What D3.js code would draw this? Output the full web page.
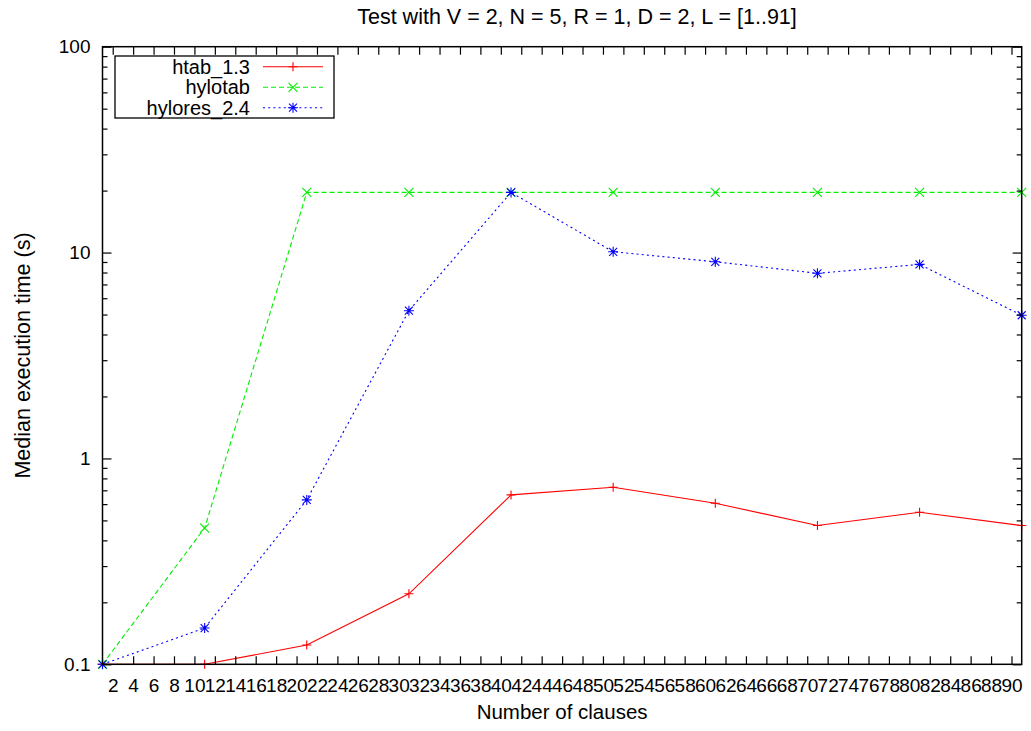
<!DOCTYPE html>
<html>
<head>
<meta charset="utf-8">
<script src="https://cdn.jsdelivr.net/npm/d3@7"></script>
<style>
  html, body { margin: 0; padding: 0; background: #fff; }
  svg { display: block; }
  text { font-family: "Liberation Sans", Arial, Helvetica, sans-serif; fill: #000; }
</style>
</head>
<body>
<svg id="chart" width="1031" height="731"></svg>
<script>
// ---- data ----
const clauses = [1, 11, 21, 31, 41, 51, 61, 71, 81, 91];
const htab13 = [0.1, 0.1, 0.124, 0.22, 0.665, 0.725, 0.606, 0.472, 0.548, 0.472];
const hylotab = [0.1, 0.459, 19.6, 19.6, 19.6, 19.6, 19.6, 19.6, 19.6, 19.6];
const hylores24 = [0.1, 0.15, 0.629, 5.22, 19.6, 10.09, 9.02, 7.93, 8.76, 4.96];
const seriesNames = ["htab_1.3", "hylotab", "hylores_2.4"];
const xTickValues = d3.range(2, 91, 2);
const yMajorTicks = [0.1, 1, 10, 100];
const yTickLabels = ["0.1", "1", "10", "100"];
const titleText = "Test with V = 2, N = 5, R = 1, D = 2, L = [1..91]";
const xLabelText = "Number of clauses";
const yLabelText = "Median execution time (s)";

// ---- layout ----
const L = 102.5, R = 1021.7, T = 46.7, B = 664.3;
const svg = d3.select("#chart");
const x = d3.scaleLinear().domain([1, 91]).range([L, R]);
const y = d3.scaleLog().domain([0.1, 100]).range([B, T]);

const yMinorTicks = [];
[0.1, 1, 10].forEach(d => { for (let k = 2; k <= 9; k++) yMinorTicks.push(+(d * k).toPrecision(3)); });

const FS = 19;

const styles = [
  { color: "#ff0000", dash: null, marker: "plus" },
  { color: "#00ee00", dash: "5,3", marker: "cross" },
  { color: "#0000ff", dash: "2,3.2", marker: "star" }
];
const allSeries = [htab13, hylotab, hylores24];

const mk = {
  plus: "M-4.5,0H4.5M0,-4.5V4.5",
  cross: "M-4.5,-4.5L4.5,4.5M-4.5,4.5L4.5,-4.5",
  star: "M-5,0H5M0,-5V5M-4,-4L4,4M-4,4L4,-4"
};

const line = d3.line().x(d => x(d[0])).y(d => y(d[1]));
const plot = svg.append("g");
allSeries.forEach((vals, i) => {
  const pts = clauses.map((c, j) => [c, vals[j]]);
  plot.append("path")
    .attr("d", line(pts))
    .attr("fill", "none")
    .attr("stroke", styles[i].color)
    .attr("stroke-width", 1.1)
    .attr("stroke-dasharray", styles[i].dash);
  plot.selectAll(null).data(pts).enter().append("path")
    .attr("transform", d => `translate(${x(d[0])},${y(d[1])})`)
    .attr("d", mk[styles[i].marker])
    .attr("fill", "none")
    .attr("stroke", styles[i].color)
    .attr("stroke-width", 1.1);
});

function styleAxis(g) {
  g.select(".domain").remove();
  g.selectAll(".tick line").attr("stroke", "#000").attr("stroke-width", 1.2);
  g.selectAll("text").style("font-size", FS + "px").attr("fill", "#000")
    .style("font-family", '"Liberation Sans", Arial, sans-serif');
}

const xb = svg.append("g").attr("transform", `translate(0,${B})`)
  .call(d3.axisBottom(x).tickValues(xTickValues).tickSizeInner(-8).tickSizeOuter(0).tickPadding(14).tickFormat(d3.format("d")))
  .call(styleAxis);
xb.selectAll(".tick").filter(d => d === 2).select("line").remove();

svg.append("g").attr("transform", `translate(0,${T})`)
  .call(d3.axisTop(x).tickValues(xTickValues).tickSizeInner(-8).tickSizeOuter(0).tickFormat(""))
  .call(styleAxis);

svg.append("g").attr("transform", `translate(${L},0)`)
  .call(d3.axisLeft(y).tickValues(yMajorTicks).tickSizeInner(-9).tickSizeOuter(0).tickPadding(12)
    .tickFormat((d, i) => yTickLabels[i]))
  .call(styleAxis);
svg.append("g").attr("transform", `translate(${L},0)`)
  .call(d3.axisLeft(y).tickValues(yMinorTicks).tickSizeInner(-5).tickSizeOuter(0).tickFormat(""))
  .call(styleAxis);
svg.append("g").attr("transform", `translate(${R},0)`)
  .call(d3.axisRight(y).tickValues(yMajorTicks).tickSizeInner(-9).tickSizeOuter(0).tickFormat(""))
  .call(styleAxis);
svg.append("g").attr("transform", `translate(${R},0)`)
  .call(d3.axisRight(y).tickValues(yMinorTicks).tickSizeInner(-5).tickSizeOuter(0).tickFormat(""))
  .call(styleAxis);

svg.append("rect").attr("x", L).attr("y", T).attr("width", R - L).attr("height", B - T)
  .attr("fill", "none").attr("stroke", "#000").attr("stroke-width", 1.5);

svg.append("text").attr("x", 577).attr("y", 24).attr("text-anchor", "middle")
  .style("font-size", "21.5px").text(titleText);
svg.append("text").attr("x", (L + R) / 2).attr("y", 719).attr("text-anchor", "middle")
  .style("font-size", "20.5px").text(xLabelText);
svg.append("text").attr("transform", `translate(30,${(T + B) / 2}) rotate(-90)`)
  .attr("text-anchor", "middle").style("font-size", "21.5px").text(yLabelText);

const lg = svg.append("g");
lg.append("rect").attr("x", 115).attr("y", 56).attr("width", 219).attr("height", 62)
  .attr("fill", "#fff").attr("stroke", "#000").attr("stroke-width", 1.3);
const rowY = [66.7, 87.3, 107.7];
seriesNames.forEach((name, i) => {
  lg.append("text").attr("x", 250).attr("y", rowY[i] + 7).attr("text-anchor", "end")
    .style("font-size", "20px").text(name);
  lg.append("line").attr("x1", 263).attr("x2", 323).attr("y1", rowY[i]).attr("y2", rowY[i])
    .attr("stroke", styles[i].color).attr("stroke-width", 1.1).attr("stroke-dasharray", styles[i].dash);
  lg.append("path").attr("transform", `translate(293,${rowY[i]})`).attr("d", mk[styles[i].marker])
    .attr("fill", "none").attr("stroke", styles[i].color).attr("stroke-width", 1.1);
});
</script>
</body>
</html>
